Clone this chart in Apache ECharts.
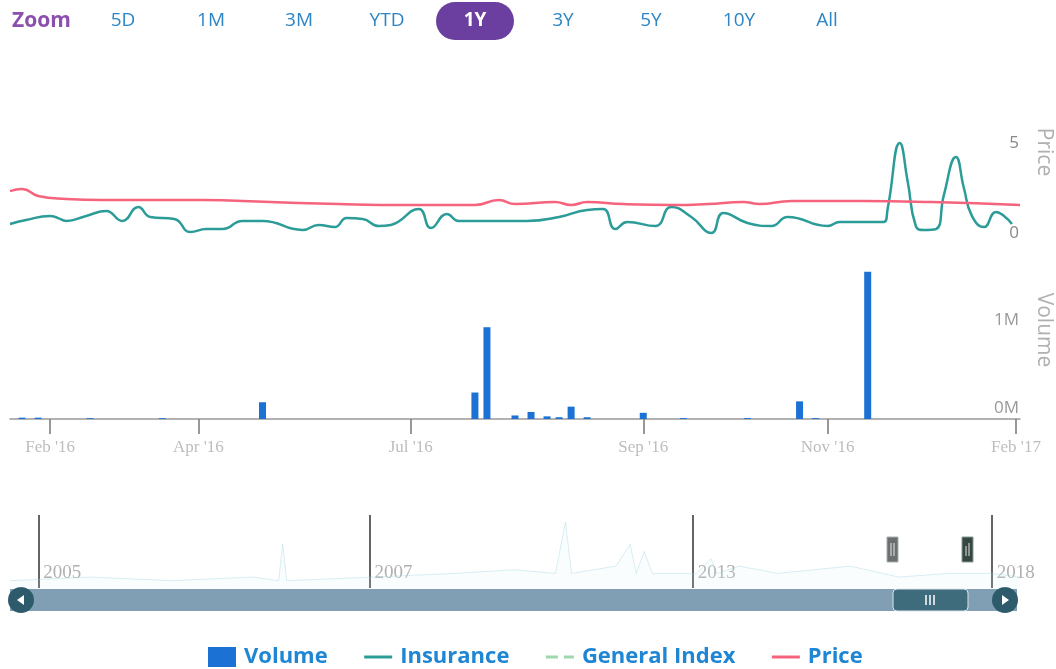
<!DOCTYPE html>
<html>
<head>
<meta charset="utf-8">
<title>Insurance - price and volume</title>
<script src="https://cdn.jsdelivr.net/npm/echarts@6/dist/echarts.min.js"></script>
<style>
  html, body { margin: 0; padding: 0; background: #fff; }
  #chart { width: 1056px; height: 669px; }
</style>
</head>
<body>
<div id="chart"></div>
<script>
// x = trading-day index of the 1Y window (ordinal axis, 0 .. 252)
const priceData = [
  [0, 2.94], [3, 3.06], [7, 2.67], [14, 2.5], [23, 2.44], [48, 2.44], [65, 2.33],
  [82, 2.22], [99, 2.17], [116, 2.17], [122, 2.44], [126, 2.22], [136, 2.33],
  [140, 2.17], [144, 2.33], [153, 2.22], [166, 2.17], [174, 2.22], [183, 2.33],
  [187, 2.22], [195, 2.39], [213, 2.39], [230, 2.33], [252, 2.17]
];
const insuranceData = [
  [0, 1.11], [4, 1.33], [10, 1.56], [12, 1.44], [14, 1.28], [19, 1.56], [24, 1.83],
  [28, 1.28], [32, 2.06], [35, 1.5], [41, 1.39], [45, 0.67], [49, 0.83], [53, 0.83],
  [58, 1.28], [63, 1.28], [73, 0.78], [77, 1.06], [81, 0.94], [84, 1.44], [88, 1.39],
  [92, 1.0], [95, 1.06], [102, 1.94], [105, 0.89], [109, 1.67], [112, 1.28],
  [129, 1.28], [137, 1.5], [144, 1.89], [148, 1.94], [151, 0.83], [154, 1.22],
  [161, 1.0], [165, 2.06], [170, 1.5], [175, 0.61], [178, 1.72], [184, 1.17],
  [190, 1.0], [194, 1.5], [204, 1.0], [207, 1.22], [218, 1.22], [219, 2.0],
  [222, 5.61], [224, 3.44], [226, 1.0], [228, 0.78], [231, 0.83], [233, 2.72],
  [236, 4.83], [238, 3.11], [240, 1.56], [243, 0.94], [246, 1.78], [248, 1.56],
  [250, 1.11]
];
const generalIndexData = [];
const volumeData = [
  [3, 15000], [7, 15000], [20, 10000], [38, 10000], [63, 190000], [116, 300000],
  [119, 1040000], [126, 40000], [130, 80000], [134, 30000], [137, 20000],
  [140, 140000], [144, 20000], [158, 70000], [168, 10000], [184, 10000],
  [197, 200000], [201, 10000], [214, 1670000]
];
const xTickIdx = [10, 47, 100, 158, 204, 251];
const xTickLabels = ["Feb '16", "Apr '16", "Jul '16", "Sep '16", "Nov '16", "Feb '17"];

// navigator: whole history, ordinal index 0 .. 500
const navData = [
  [0, 1], [40, 1.5], [80, 1], [120, 1.5], [133, 1], [135, 6], [137, 1], [180, 1.5],
  [220, 2], [250, 2.5], [270, 2], [275, 9], [278, 2], [300, 3], [307, 6], [310, 2],
  [314, 5], [318, 2], [340, 2], [347, 4], [350, 2], [361, 3], [380, 2], [416, 3],
  [440, 1.5], [465, 2], [486, 2], [500, 1.5]
];
const navTickIdx = [14, 178, 338, 486];
const navTickLabels = ['2005', '2007', '2013', '2018'];

const rangeButtons = ['5D', '1M', '3M', 'YTD', '1Y', '3Y', '5Y', '10Y', 'All'];
const selectedRange = '1Y';

const FONT = "'Open Sans', 'DejaVu Sans', sans-serif";
const SERIF = "'Liberation Serif', 'DejaVu Serif', serif";

const chart = echarts.init(document.getElementById('chart'), null, { renderer: 'canvas' });

// range selector
const topGraphics = [{
  type: 'text', x: 12, y: 21,
  style: { text: 'Zoom', verticalAlign: 'middle', fill: '#8b4fad', font: 'bold 21px ' + FONT }
}];
rangeButtons.forEach((label, i) => {
  const cx = 123 + i * 88;
  const active = label === selectedRange;
  if (active) {
    topGraphics.push({
      type: 'rect', shape: { x: cx - 39, y: 2, width: 78, height: 38, r: 19 },
      style: { fill: '#6a3f9f' }
    });
  }
  topGraphics.push({
    type: 'text', x: cx, y: 21,
    style: {
      text: label, align: 'center', verticalAlign: 'middle',
      fill: active ? '#fff' : '#2d85c5',
      font: (active ? 'bold ' : '') + '19px ' + FONT
    }
  });
});

// scrollbar + navigator handles
const scrollGraphics = [
  { type: 'rect', shape: { x: 10, y: 589, width: 1007, height: 22 }, style: { fill: '#819fb4' } },
  { type: 'rect', shape: { x: 893, y: 589, width: 75, height: 22, r: 4 }, style: { fill: '#3f6c7c', stroke: '#d8e4ea', lineWidth: 1 } },
  { type: 'line', shape: { x1: 926, y1: 595, x2: 926, y2: 605 }, style: { stroke: '#fff', lineWidth: 1.5 } },
  { type: 'line', shape: { x1: 930, y1: 595, x2: 930, y2: 605 }, style: { stroke: '#fff', lineWidth: 1.5 } },
  { type: 'line', shape: { x1: 934, y1: 595, x2: 934, y2: 605 }, style: { stroke: '#fff', lineWidth: 1.5 } },
  { type: 'circle', shape: { cx: 21, cy: 600, r: 13 }, style: { fill: '#2d5b6b' } },
  { type: 'polygon', shape: { points: [[17, 600], [24, 595], [24, 605]] }, style: { fill: '#fff' } },
  { type: 'circle', shape: { cx: 1005, cy: 600, r: 13 }, style: { fill: '#2d5b6b' } },
  { type: 'polygon', shape: { points: [[1009, 600], [1002, 595], [1002, 605]] }, style: { fill: '#fff' } },
  { type: 'rect', shape: { x: 887, y: 537, width: 11, height: 25 }, style: { fill: '#6b6f70', stroke: '#a8b0b2', lineWidth: 1 } },
  { type: 'line', shape: { x1: 891, y1: 543, x2: 891, y2: 556 }, style: { stroke: '#e6e6e6', lineWidth: 1 } },
  { type: 'line', shape: { x1: 894, y1: 543, x2: 894, y2: 556 }, style: { stroke: '#e6e6e6', lineWidth: 1 } },
  { type: 'rect', shape: { x: 962, y: 537, width: 11, height: 25 }, style: { fill: '#364640', stroke: '#8a9a94', lineWidth: 1 } },
  { type: 'line', shape: { x1: 966, y1: 546, x2: 966, y2: 556 }, style: { stroke: '#e6e6e6', lineWidth: 1 } },
  { type: 'line', shape: { x1: 969, y1: 543, x2: 969, y2: 556 }, style: { stroke: '#e6e6e6', lineWidth: 1 } }
];

// rotated axis titles
const titleGraphics = [
  { type: 'text', x: 1044, y: 152, rotation: -Math.PI / 2,
    style: { text: 'Price', align: 'center', verticalAlign: 'middle', fill: '#b0b0b0', font: '21px ' + FONT } },
  { type: 'text', x: 1044, y: 330, rotation: -Math.PI / 2,
    style: { text: 'Volume', align: 'center', verticalAlign: 'middle', fill: '#b0b0b0', font: '21px ' + FONT } }
];

// line legend items: line only, no marker
const noMarker = { color: 'rgba(0,0,0,0)', borderWidth: 0, opacity: 0 };

const option = {
  animation: false,
  backgroundColor: '#fff',
  textStyle: { fontFamily: FONT },
  legend: {
    data: [
      { name: 'Volume', icon: 'rect' },
      { name: 'Insurance', itemStyle: noMarker },
      { name: 'General Index', itemStyle: noMarker },
      { name: 'Price', itemStyle: noMarker }
    ],
    left: 203, top: 641,
    itemWidth: 28, itemHeight: 20, itemGap: 35,
    lineStyle: { width: 3 },
    textStyle: { fontSize: 22, fontWeight: 'bold', color: '#1f86d4', padding: [0, 0, 0, 3] }
  },
  grid: [
    { left: 10, right: 36, top: 136, height: 108 },
    { left: 10, right: 36, top: 269, height: 150 },
    { left: 10, right: 36, top: 515, height: 73 }
  ],
  xAxis: [
    { type: 'value', gridIndex: 0, min: 0, max: 252, show: false },
    {
      type: 'value', gridIndex: 1, min: 0, max: 252,
      axisLine: { show: true, onZero: false, lineStyle: { color: '#999', width: 1.5 } },
      axisTick: { show: true, customValues: xTickIdx, length: 15, lineStyle: { color: '#777', width: 1.5 } },
      axisLabel: {
        customValues: xTickIdx, margin: 20, color: '#bdbdbd',
        fontFamily: SERIF, fontSize: 17,
        formatter: v => xTickLabels[xTickIdx.indexOf(v)] || ''
      },
      splitLine: { show: false }
    },
    {
      type: 'value', gridIndex: 2, min: 0, max: 500,
      axisLine: { show: false },
      axisTick: { show: true, inside: true, customValues: navTickIdx, length: 73, lineStyle: { color: '#333', width: 1.5 } },
      axisLabel: {
        inside: true, customValues: navTickIdx, margin: 15, align: 'left', verticalAlign: 'middle',
        padding: [0, 0, 0, 5], color: '#b0b0b0', fontFamily: SERIF, fontSize: 19,
        formatter: v => navTickLabels[navTickIdx.indexOf(v)] || ''
      },
      splitLine: { show: false }
    }
  ],
  yAxis: [
    {
      type: 'value', gridIndex: 0, position: 'right', min: 0, max: 6, interval: 5,
      axisLine: { show: false }, axisTick: { show: false }, splitLine: { show: false },
      axisLabel: {
        inside: true, margin: 1, align: 'right', verticalAlign: 'bottom', padding: [0, 0, 2, 0],
        fontSize: 17, color: v => (v === 5 ? '#222' : '#888'),
        formatter: v => (v % 5 === 0 ? String(v) : '')
      }
    },
    {
      type: 'value', gridIndex: 1, position: 'right', min: 0, max: 1700000, interval: 1000000,
      axisLine: { show: false }, axisTick: { show: false }, splitLine: { show: false },
      axisLabel: {
        inside: true, margin: 1, align: 'right', verticalAlign: 'bottom', padding: [0, 0, 2, 0],
        fontSize: 17, color: v => (v === 0 ? '#222' : '#999'),
        formatter: v => (v % 1000000 === 0 ? (v / 1000000) + 'M' : '')
      }
    },
    { type: 'value', gridIndex: 2, min: 0, max: 10, show: false }
  ],
  series: [
    {
      name: 'Volume', type: 'bar', xAxisIndex: 1, yAxisIndex: 1,
      data: volumeData, barWidth: 7, itemStyle: { color: '#1c72d4' }
    },
    {
      name: 'Insurance', type: 'line', xAxisIndex: 0, yAxisIndex: 0,
      data: insuranceData, smooth: 0.5, symbol: 'none',
      lineStyle: { color: '#2c9c98', width: 2.5 }, itemStyle: { color: '#4aa3b8' }
    },
    {
      name: 'General Index', type: 'line', xAxisIndex: 0, yAxisIndex: 0,
      data: generalIndexData, symbol: 'none',
      lineStyle: { color: '#9fd6ab', width: 2, type: 'dashed' }, itemStyle: { color: '#9fd6ab' }
    },
    {
      name: 'Price', type: 'line', xAxisIndex: 0, yAxisIndex: 0,
      data: priceData, smooth: 0.5, symbol: 'none',
      lineStyle: { color: '#f6637c', width: 2.5 }, itemStyle: { color: '#f6879a' }
    },
    {
      name: 'Navigator', type: 'line', xAxisIndex: 2, yAxisIndex: 2,
      data: navData, symbol: 'none', silent: true,
      lineStyle: { color: 'rgba(150,205,220,0.35)', width: 1 },
      areaStyle: { color: 'rgba(215,238,244,0.2)' }
    }
  ],
  graphic: topGraphics.concat(scrollGraphics, titleGraphics)
};

chart.setOption(option);
</script>
</body>
</html>
